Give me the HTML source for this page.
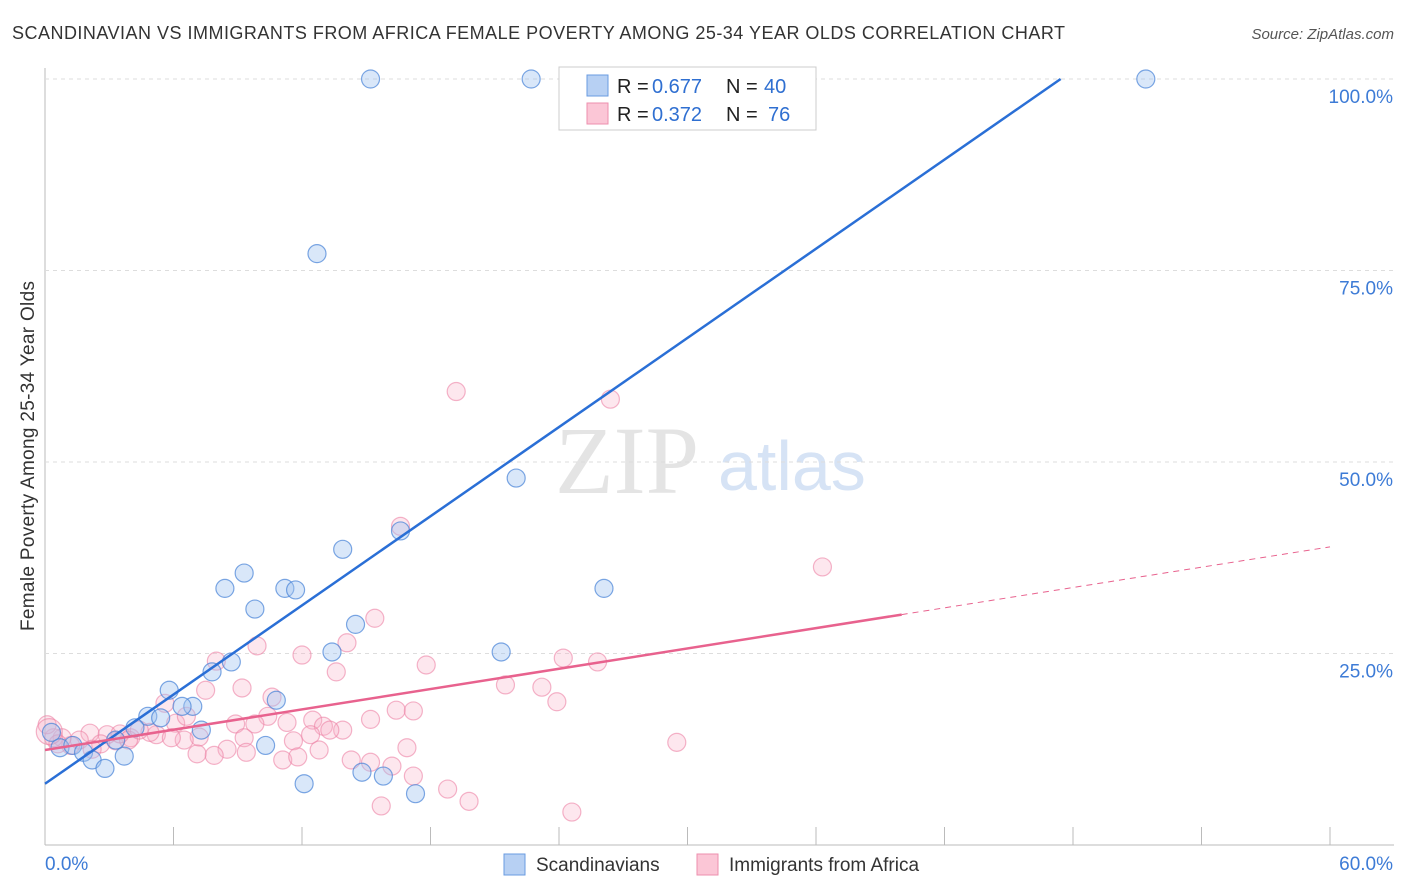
<!DOCTYPE html>
<html><head><meta charset="utf-8"><style>
body{margin:0;background:#fff;font-family:"Liberation Sans",sans-serif;}
#wrap{position:relative;width:1406px;height:892px;overflow:hidden;}
</style></head><body>
<div id="wrap">
<svg id="svg" width="1406" height="892" xmlns="http://www.w3.org/2000/svg">
<text x="12" y="39" font-size="18" fill="#333" textLength="1053" lengthAdjust="spacing">SCANDINAVIAN VS IMMIGRANTS FROM AFRICA FEMALE POVERTY AMONG 25-34 YEAR OLDS CORRELATION CHART</text>
<text x="1394" y="39" font-size="15" fill="#555" font-style="italic" text-anchor="end">Source: ZipAtlas.com</text>
<text transform="translate(34,456) rotate(-90)" font-size="19" fill="#333" text-anchor="middle" textLength="350">Female Poverty Among 25-34 Year Olds</text>
<text x="555" y="493" font-size="96" fill="#e4e4e4" font-family="Liberation Serif,serif">ZIP</text>
<text x="718" y="490" font-size="70" fill="#d6e3f5">atlas</text>
<g id="grid"></g><g id="marks"></g>
<g>
<rect x="559" y="67" width="257" height="63" fill="#fff" stroke="#ccc"/>
<rect x="587" y="75" width="21" height="21" fill="#b7d0f3" stroke="#6a9be0"/>
<rect x="587" y="103" width="21" height="21" fill="#fbc6d6" stroke="#ee8fae"/>
<text x="617" y="93" font-size="20" fill="#222">R =</text><text x="652" y="93" font-size="20" fill="#2f6fd1">0.677</text>
<text x="726" y="93" font-size="20" fill="#222">N =</text><text x="764" y="93" font-size="20" fill="#2f6fd1">40</text>
<text x="617" y="121" font-size="20" fill="#222">R =</text><text x="652" y="121" font-size="20" fill="#2f6fd1">0.372</text>
<text x="726" y="121" font-size="20" fill="#222">N =</text><text x="768" y="121" font-size="20" fill="#2f6fd1">76</text>
</g>
<g>
<rect x="504" y="854" width="21" height="21" fill="#b7d0f3" stroke="#6a9be0"/>
<text x="536" y="871" font-size="19" fill="#333">Scandinavians</text>
<rect x="697" y="854" width="21" height="21" fill="#fbc6d6" stroke="#ee8fae"/>
<text x="729" y="871" font-size="19" fill="#333">Immigrants from Africa</text>
</g>
</svg>
</div>
<script>
const xTicks=[0,6,12,18,24,30,36,42,48,54,60];
const yTicks=[25,50,75,100];
const yTickLabels=["25.0%","50.0%","75.0%","100.0%"];
const blueX=[15.2,22.7,25.8,51.4,12.7,22.0,16.6,13.9,26.1,9.3,8.4,11.2,11.7,9.8,14.5,13.4,21.3,8.7,7.8,5.8,6.9,10.8,6.4,4.8,5.4,7.3,4.2,3.3,0.3,0.7,1.3,1.8,2.2,2.8,3.7,10.3,12.1,14.8,15.8,17.3];
const blueY=[100,100,100,100,77.2,47.9,41.0,38.6,33.5,35.5,33.5,33.5,33.3,30.8,28.8,25.2,25.2,23.9,22.6,20.2,18.1,18.9,18.1,16.8,16.6,15.0,15.3,13.7,14.7,12.7,13.0,12.1,11.1,10.0,11.6,13.0,8.0,9.5,9.0,6.7];
const pinkX=[19.2,26.4,36.3,16.6,15.4,14.1,24.2,25.8,17.8,21.5,23.2,23.9,29.5,13.6,12.0,9.9,9.2,8.0,7.5,10.6,10.4,11.3,8.9,9.8,12.5,13.0,13.9,13.3,15.2,16.4,17.2,15.2,16.2,16.9,17.2,18.8,19.8,15.7,24.6,14.3,11.6,12.4,11.1,11.8,8.5,7.9,7.1,6.1,5.6,6.6,7.2,6.5,5.2,4.9,4.0,3.3,2.9,2.1,2.6,1.6,1.2,0.8,0.4,0.1,0.6,9.3,3.9,3.5,2.2,4.4,5.9,9.4,12.8,0.2];
const pinkY=[59.2,58.2,36.3,41.6,29.6,26.4,24.4,23.9,23.5,20.9,20.6,18.7,13.4,22.6,24.8,26.0,20.5,24.0,20.2,19.3,16.8,16.0,15.8,15.8,16.3,15.5,15.0,15.0,16.4,17.6,17.5,10.8,10.3,12.7,9.0,7.3,5.7,5.1,4.3,11.1,13.6,14.4,11.1,11.5,12.5,11.7,11.9,15.9,18.5,16.8,14.1,13.7,14.4,14.7,14.0,13.6,14.4,14.6,13.2,13.7,13.0,14.0,14.0,15.7,13.2,14.0,13.7,14.5,12.5,15.0,14.0,12.1,12.4,14.8];
const blueTrend=[8.0,1.94];
const pinkTrend=[12.4,0.442];
const X=v=>45+v*(1285/60);
const Y=v=>845-v*(766/100);
const NS="http://www.w3.org/2000/svg";
function mk(t,a,p){const e=document.createElementNS(NS,t);for(const k in a)e.setAttribute(k,a[k]);p.appendChild(e);return e;}
const grid=document.getElementById('grid'),marks=document.getElementById('marks');
mk('line',{x1:45,y1:845,x2:1394,y2:845,stroke:'#bbb'},grid);
mk('line',{x1:45,y1:68,x2:45,y2:845,stroke:'#bbb'},grid);
xTicks.forEach((t,i)=>{const l=mk('line',{x1:X(t),y1:827,x2:X(t),y2:845,stroke:'#bbb'},grid);

});
yTicks.forEach((t,i)=>{const l=mk('line',{x1:45,y1:Y(t),x2:1394,y2:Y(t),stroke:'#ddd','stroke-dasharray':'4,4'},grid);


const tx=mk('text',{x:1393,y:Y(t)+24,'font-size':19,fill:'#3d7bd6','text-anchor':'end'},grid);tx.textContent=yTickLabels[i];

});
const x0=mk('text',{x:45,y:870,'font-size':19,fill:'#3d7bd6'},grid);x0.textContent='0.0%';


const x1=mk('text',{x:1393,y:870,'font-size':19,fill:'#3d7bd6','text-anchor':'end'},grid);x1.textContent='60.0%';


pinkX.forEach((v,i)=>{const c=mk('circle',{cx:X(v),cy:Y(pinkY[i]),r:i==pinkX.length-1?13:9,fill:'rgba(248,175,198,0.3)',stroke:'rgba(236,130,165,0.6)','stroke-width':1.2},marks);

});
blueX.forEach((v,i)=>{const c=mk('circle',{cx:X(v),cy:Y(blueY[i]),r:9,fill:'rgba(160,195,240,0.4)',stroke:'rgba(70,130,215,0.7)','stroke-width':1.2},marks);

});
const bx2=(100-blueTrend[0])/blueTrend[1];
const bl=mk('line',{x1:X(0),y1:Y(blueTrend[0]),x2:X(bx2),y2:Y(100),stroke:'#2a6fd6','stroke-width':2.5},marks);


const pl=mk('line',{x1:X(0),y1:Y(pinkTrend[0]),x2:X(40),y2:Y(pinkTrend[0]+pinkTrend[1]*40),stroke:'#e8628e','stroke-width':2.5},marks);


const pd=mk('line',{x1:X(40),y1:Y(pinkTrend[0]+pinkTrend[1]*40),x2:X(60),y2:Y(pinkTrend[0]+pinkTrend[1]*60),stroke:'#e8628e','stroke-width':1,'stroke-dasharray':'6,5'},marks);


</script>
</body></html>
